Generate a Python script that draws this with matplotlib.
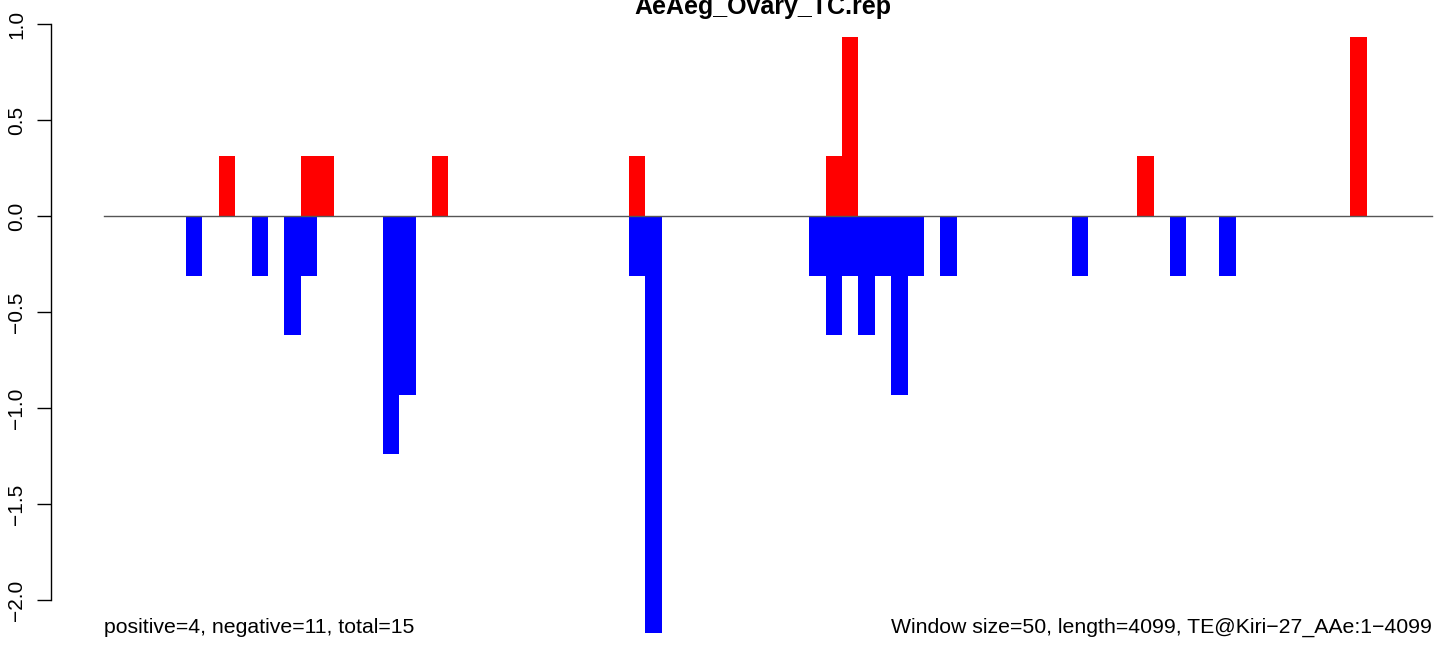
import matplotlib
matplotlib.use("Agg")
import matplotlib.pyplot as plt

title = "AeAeg_Ovary_TC.rep"
left_note = "positive=4, negative=11, total=15"
right_note = "Window size=50, length=4099, TE@Kiri\u221227_AAe:1\u22124099"

n_windows = 81
pos_windows = [7, 12, 13, 20, 32, 44, 45, 63, 76]
pos_values = [0.31, 0.31, 0.31, 0.31, 0.31, 0.31, 0.93, 0.31, 0.93]
neg_windows = [5, 9, 11, 12, 17, 18, 32, 33, 43, 44, 45, 46, 47, 48, 49, 51, 59, 65, 68]
neg_values = [-0.31, -0.31, -0.62, -0.31, -1.24, -0.93, -0.31, -2.17, -0.31, -0.62,
              -0.31, -0.62, -0.31, -0.93, -0.31, -0.31, -0.31, -0.31, -0.31]
yticks = [1.0, 0.5, 0.0, -0.5, -1.0, -1.5, -2.0]

plt.rcParams['font.family'] = ['Liberation Sans', 'DejaVu Sans']
W, H = 1444, 646
fig = plt.figure(figsize=(W / 100, H / 100), dpi=100)

# axes in pixel coordinates
ax_left, ax_right = 51, 1440
ax = fig.add_axes([ax_left / W, 0, (ax_right - ax_left) / W, 1])
stride = 16.4
x0 = 104
ax.set_xlim((ax_left - x0) / stride, (ax_right - x0) / stride)
ppu = 192.0
y0 = 216
ax.set_ylim(-(H - y0) / ppu, y0 / ppu)

ax.bar(pos_windows, pos_values, width=1.0, align='edge', color='#FF0000', linewidth=0)
ax.bar(neg_windows, neg_values, width=1.0, align='edge', color='#0000FF', linewidth=0)
ax.plot([0, n_windows], [0, 0], color='#555555', lw=1.0)

for s in ['top', 'right', 'bottom']:
    ax.spines[s].set_visible(False)
ax.spines['left'].set_bounds(-2.0, 1.0)
ax.spines['left'].set_linewidth(1.0)
ax.set_xticks([])
ax.set_yticks(yticks)
ax.set_yticklabels([f"{v:.1f}".replace('-', '\u2212') for v in yticks],
                   rotation=90, va='center', fontsize=15)
ax.tick_params(axis='y', length=10, width=1.0, pad=8)
ax.patch.set_alpha(0)

fig.text(763 / W, 1 - 14 / H, title, ha='center', va='baseline',
         fontsize=18, fontweight='bold')
fig.text(104 / W, 1 - 633 / H, left_note, ha='left', va='baseline', fontsize=15.3)
fig.text(1432 / W, 1 - 633 / H, right_note, ha='right', va='baseline', fontsize=15.3)

fig.savefig("out.png", dpi=100)
